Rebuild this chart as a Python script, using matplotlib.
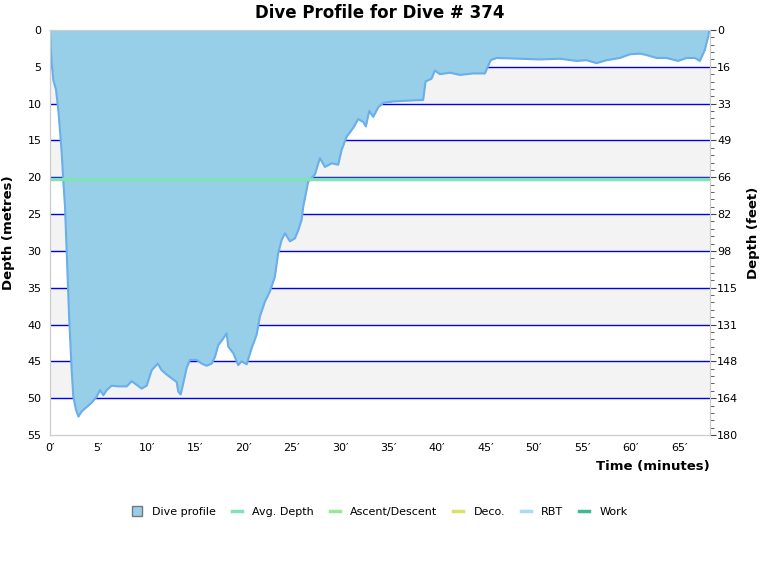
import numpy as np
import matplotlib
matplotlib.use("Agg")
import matplotlib.pyplot as plt
from matplotlib.lines import Line2D
from matplotlib.ticker import FixedLocator, MultipleLocator

### DATA ###

# dive profile (minutes, metres)
time_min = [0.0, 0.05, 0.07, 0.18, 0.34, 0.62, 0.86, 1.03, 1.21, 1.37, 1.55, 1.73, 1.99,
            2.24, 2.41, 2.69, 2.94, 3.27, 3.79, 4.31, 4.82, 5.17, 5.51, 5.86, 6.37, 7.06,
            7.92, 8.44, 8.96, 9.47, 9.99, 10.51, 11.13, 11.54, 12.06, 12.57, 13.09, 13.25,
            13.50, 13.77, 14.12, 14.46, 15.15, 15.67, 16.19, 16.70, 17.05, 17.39, 17.90,
            18.25, 18.42, 18.94, 19.45, 19.80, 20.32, 20.84, 21.35, 21.69, 22.21, 22.73,
            23.24, 23.58, 23.94, 24.28, 24.79, 25.31, 25.65, 26.00, 26.17, 26.68, 27.38,
            27.89, 28.41, 29.10, 29.78, 30.13, 30.65, 31.33, 31.85, 32.37, 32.64, 32.99,
            33.40, 33.92, 34.43, 35.47, 36.85, 38.56, 38.81, 39.43, 39.77, 40.29, 41.32,
            42.36, 43.73, 44.94, 45.53, 46.15, 48.55, 50.62, 52.69, 54.41, 55.44, 56.48,
            57.51, 58.88, 59.92, 60.95, 61.64, 62.68, 63.71, 64.91, 65.77, 66.63, 67.15,
            67.67, 68.01, 68.11]
depth_m = [0.0, 1.6, 2.3, 4.5, 6.8, 8.1, 10.9, 13.6, 16.7, 20.4, 24.0, 30.3, 39.4,
           46.2, 49.8, 51.6, 52.5, 51.8, 51.2, 50.6, 49.8, 48.9, 49.6, 48.9, 48.3, 48.4,
           48.4, 47.7, 48.2, 48.7, 48.3, 46.2, 45.3, 46.2, 46.8, 47.3, 47.8, 49.1,
           49.5, 48.0, 45.9, 44.8, 44.8, 45.3, 45.6, 45.3, 44.4, 42.8, 41.9,
           41.2, 43.0, 43.9, 45.5, 45.0, 45.4, 43.2, 41.4, 38.9, 36.9, 35.5,
           33.5, 30.3, 28.5, 27.6, 28.7, 28.3, 27.2, 25.8, 24.0, 20.6, 19.6,
           17.4, 18.6, 18.1, 18.3, 16.3, 14.5, 13.3, 12.1, 12.5, 13.1, 11.0,
           11.8, 10.5, 9.9, 9.7, 9.6, 9.5, 7.0, 6.6, 5.5, 6.0, 5.8,
           6.1, 5.9, 5.9, 4.1, 3.8, 3.9, 4.0, 3.9, 4.2, 4.1, 4.5,
           4.1, 3.8, 3.3, 3.2, 3.4, 3.8, 3.8, 4.2, 3.8, 3.8, 4.2,
           2.7, 0.9, 0.1]

avg_depth = 20.3
dive_number = 374

x_ticks = [0, 5, 10, 15, 20, 25, 30, 35, 40, 45, 50, 55, 60, 65]
depth_ticks = [0, 5, 10, 15, 20, 25, 30, 35, 40, 45, 50, 55]

legend_labels = ["Dive profile", "Avg. Depth", "Ascent/Descent", "Deco.", "RBT", "Work"]
legend_colors = ["#97cfe9", "#7fe3b6", "#98e898", "#d9e06a", "#a6dcf5", "#3cbb91"]

### PLOT ###

fig = plt.figure(figsize=(7.6, 5.8), dpi=100)
ax = fig.add_axes([50 / 760, 145 / 580, 660 / 760, 405 / 580])

ax.set_xlim(0, 68.2)
ax.set_ylim(55, 0)

# alternating background bands
for lo in range(5, 55, 10):
    ax.axhspan(lo, lo + 5, color="#f3f3f3", zorder=0, lw=0)
for d in depth_ticks[1:-1]:
    ax.axhline(d, color="#0000ee", lw=1.0, zorder=1)

ax.fill_between(time_min, 0, depth_m, color=legend_colors[0], lw=0, zorder=2)
ax.plot(time_min, depth_m, color="#6aaeea", lw=1.5, zorder=3)
ax.axhline(avg_depth, color=legend_colors[1], lw=2.5, zorder=4)

for s in ["left", "bottom", "top", "right"]:
    ax.spines[s].set_color("#cccccc")

ax.set_xticks(x_ticks)
ax.set_xticklabels([f"{t}\u2032" for t in x_ticks])
ax.set_yticks(depth_ticks)
ax.tick_params(axis="both", length=0, labelsize=8, pad=6)

ax.set_ylabel("Depth (metres)", fontsize=9.5, fontweight="bold", labelpad=9)
ax.set_xlabel("Time (minutes)", fontsize=9.5, fontweight="bold", loc="right", labelpad=5)
ax.set_title(f"Dive Profile for Dive # {dive_number}", fontsize=12, fontweight="bold", pad=9)

# right axis in feet
ax2 = ax.twinx()
ax2.set_ylim(55, 0)
ax2.yaxis.set_major_locator(FixedLocator(depth_ticks))
ax2.yaxis.set_minor_locator(MultipleLocator(1))
ax2.set_yticklabels([str(int(round(d * 3.28084))) for d in depth_ticks])
ax2.tick_params(axis="y", which="major", length=4, color="#444444", labelsize=8, pad=1)
ax2.tick_params(axis="y", which="minor", length=3, color="#444444")
for s in ["left", "bottom", "top", "right"]:
    ax2.spines[s].set_color("#cccccc")
ax2.set_ylabel("Depth (feet)", fontsize=9.5, fontweight="bold", labelpad=6)

# legend
handles = [Line2D([], [], marker="s", ls="none", markersize=6.5,
                  markerfacecolor=legend_colors[0], markeredgecolor="#777777")]
for c in legend_colors[1:]:
    handles.append(Line2D([], [], color=c, lw=2.5))
fig.legend(handles, legend_labels, loc="center", bbox_to_anchor=(0.5, 1 - 512 / 580),
           ncol=6, frameon=False, fontsize=8, handlelength=0.9, columnspacing=1.45,
           handletextpad=0.9)

fig.savefig("out.png", dpi=100)
